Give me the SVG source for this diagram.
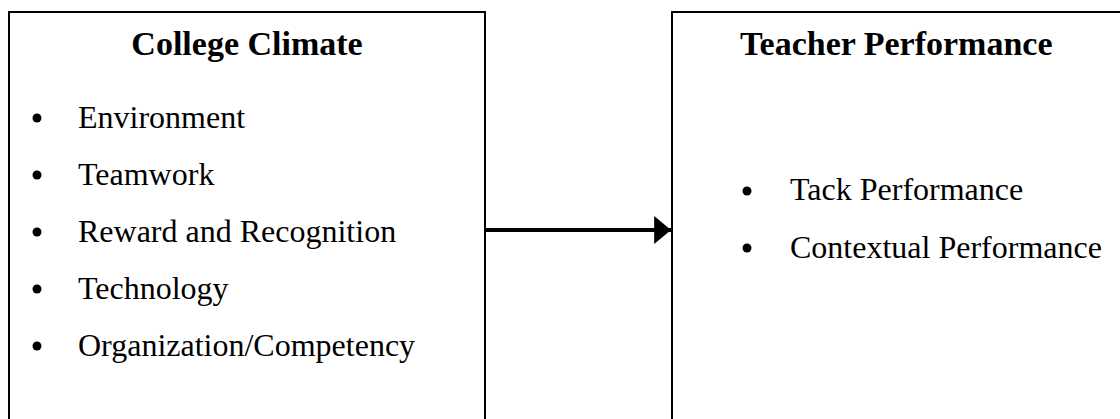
<svg xmlns="http://www.w3.org/2000/svg" width="1120" height="419" viewBox="0 0 1120 419">
<style>
.box{fill:none;stroke:#000;stroke-width:2}
.title{font-family:"Liberation Serif","Times New Roman",serif;font-weight:bold;font-size:34px;fill:#000}
.item{font-family:"Liberation Serif","Times New Roman",serif;font-size:32px;fill:#000}
.dot{fill:#000}
</style>
<defs>
<marker id="arrow" markerWidth="5" markerHeight="7" refX="4.2" refY="3.5" orient="auto" markerUnits="strokeWidth">
<path d="M0,0 L4.2,3.5 L0,7 Z" fill="#000"/>
</marker>
</defs>
<rect width="1120" height="419" fill="#fff"/>
<g id="college-climate">
<rect class="box" x="9" y="12" width="476" height="420"/>
<text class="title" x="247" y="55" text-anchor="middle">College Climate</text>
<circle class="dot" cx="37" cy="118" r="4.5"/>
<text class="item" x="78" y="128">Environment</text>
<circle class="dot" cx="37" cy="175" r="4.5"/>
<text class="item" x="78" y="185">Teamwork</text>
<circle class="dot" cx="37" cy="232" r="4.5"/>
<text class="item" x="78" y="242">Reward and Recognition</text>
<circle class="dot" cx="37" cy="289" r="4.5"/>
<text class="item" x="78" y="299">Technology</text>
<circle class="dot" cx="37" cy="346" r="4.5"/>
<text class="item" x="78" y="356">Organization/Competency</text>
</g>
<g id="teacher-performance">
<rect class="box" x="672" y="12" width="460" height="420"/>
<text class="title" x="740" y="55">Teacher Performance</text>
<circle class="dot" cx="747" cy="191" r="4.5"/>
<text class="item" x="790" y="200">Tack Performance</text>
<circle class="dot" cx="747" cy="248" r="4.5"/>
<text class="item" x="790" y="258">Contextual Performance</text>
</g>
<g id="connectors">
<line x1="485" y1="230" x2="671" y2="230" stroke="#000" stroke-width="4" marker-end="url(#arrow)"/>
</g>
</svg>
